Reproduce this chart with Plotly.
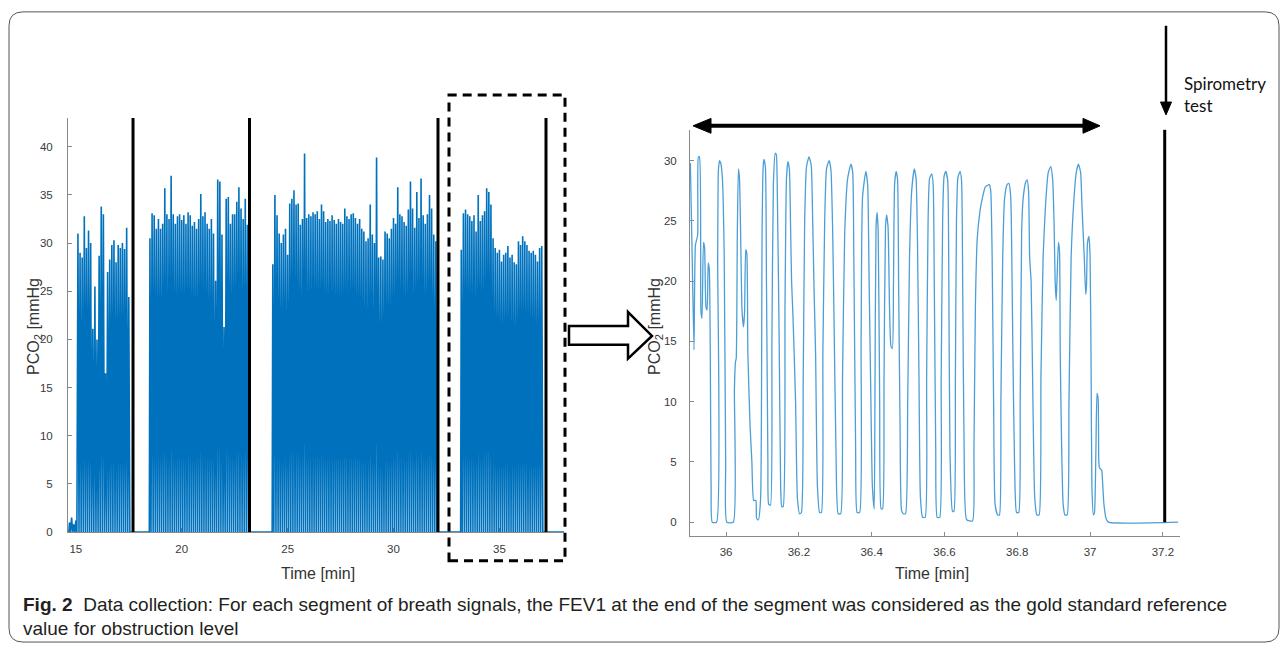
import plotly.graph_objects as go

W, H = 1287, 653

# ---------------- DATA ----------------
# Left panel: breath-by-breath peak PCO2 (mmHg), sampled every 0.1 min, per segment
seg1_start = 14.7
seg1_peaks = [1.0, 1.5, 0.8, 1.2, 31.0, 29.0, 28.5, 32.8, 29.5, 31.3, 30.0, 21.1, 25.5, 20.0,
              28.7, 33.8, 33.0, 16.5, 27.0, 28.3, 29.8, 30.3, 28.0, 29.8, 29.5, 30.0, 29.4, 31.6, 24.4]
seg2_start = 18.5
seg2_peaks = [30.5, 33.1, 32.9, 31.5, 32.5, 31.5, 32.0, 35.7, 33.0, 32.5, 37.0, 33.0, 32.0, 32.8,
              33.0, 32.4, 32.9, 32.0, 33.2, 32.9, 31.8, 32.2, 31.5, 32.5, 35.1, 32.8, 33.2, 32.0,
              31.5, 32.5, 31.0, 26.1, 36.6, 36.4, 30.9, 21.3, 34.6, 34.8, 32.0, 33.0, 33.0, 34.3,
              35.8, 33.6, 32.5, 34.6, 31.9]
seg3_start = 24.3
seg3_peaks = [27.8, 35.0, 32.9, 31.0, 30.0, 30.9, 31.5, 28.8, 34.1, 34.6, 35.5, 34.0, 34.1, 31.9,
              32.5, 39.3, 32.6, 33.0, 32.8, 33.2, 33.0, 33.3, 32.5, 34.0, 33.3, 32.2, 32.5, 32.3,
              32.9, 32.4, 32.0, 32.5, 32.2, 32.0, 33.6, 32.8, 32.5, 33.0, 33.1, 32.6, 32.0, 32.5,
              31.5, 31.2, 30.2, 30.5, 34.0, 30.9, 30.0, 38.9, 28.5, 28.6, 28.3, 31.2, 31.0, 30.5,
              31.5, 32.6, 32.0, 35.8, 33.0, 32.8, 32.2, 31.8, 33.5, 36.4, 33.6, 31.6, 35.3, 32.6,
              36.7, 32.9, 32.0, 33.0, 35.0, 33.6, 30.9, 30.2]
seg4_start = 33.2
seg4_peaks = [29.3, 33.1, 33.5, 33.0, 32.8, 32.3, 32.9, 31.2, 35.0, 32.3, 32.9, 33.3, 35.7, 35.3,
              34.0, 30.5, 29.5, 29.0, 29.3, 28.1, 28.8, 29.0, 29.7, 28.5, 28.8, 28.0, 27.8, 30.2,
              29.8, 30.7, 30.2, 29.8, 29.2, 29.0, 29.2, 28.8, 28.1, 29.5, 29.7]
left_end_time = 38.05
segment_end_times = [17.7, 23.2, 32.1, 37.2]

# Right panel: last segment, detailed capnogram (time in min, PCO2 in mmHg)
zoom_t = [35.902, 35.907, 35.912, 35.916, 35.922, 35.924, 35.927, 35.931, 35.934, 35.938, 35.941,
          35.945, 35.948, 35.951, 35.954, 35.959, 35.962, 35.974, 35.977, 35.979, 35.982, 35.986,
          35.990, 35.995, 35.999, 36.002, 36.020, 36.023, 36.026, 36.028, 36.031, 36.034, 36.037,
          36.040, 36.044, 36.048, 36.051, 36.054, 36.057, 36.060, 36.066, 36.071, 36.076, 36.082,
          36.084, 36.089, 36.095, 36.099, 36.102, 36.104, 36.108, 36.111, 36.115, 36.117, 36.122,
          36.126, 36.130, 36.135, 36.138, 36.141, 36.146, 36.150, 36.153, 36.157, 36.162, 36.166,
          36.170, 36.174, 36.177, 36.180, 36.184, 36.191, 36.196, 36.202, 36.207, 36.212, 36.216,
          36.221, 36.228, 36.234, 36.238, 36.242, 36.246, 36.251, 36.257, 36.262, 36.266, 36.271,
          36.276, 36.283, 36.288, 36.293, 36.297, 36.302, 36.308, 36.315, 36.320, 36.326, 36.334,
          36.343, 36.348, 36.351, 36.356, 36.360, 36.367, 36.371, 36.375, 36.384, 36.389, 36.393,
          36.397, 36.402, 36.407, 36.409, 36.412, 36.415, 36.418, 36.422, 36.426, 36.430, 36.434,
          36.438, 36.441, 36.445, 36.449, 36.453, 36.457, 36.460, 36.463, 36.467, 36.471, 36.474,
          36.478, 36.482, 36.487, 36.493, 36.499, 36.504, 36.510, 36.517, 36.522, 36.526, 36.530,
          36.534, 36.540, 36.547, 36.551, 36.555, 36.559, 36.565, 36.569, 36.572, 36.576, 36.580,
          36.587, 36.591, 36.595, 36.599, 36.604, 36.609, 36.612, 36.615, 36.622, 36.626, 36.630,
          36.633, 36.637, 36.643, 36.647, 36.650, 36.654, 36.661, 36.677, 36.681, 36.685, 36.690,
          36.698, 36.705, 36.712, 36.723, 36.727, 36.731, 36.735, 36.739, 36.746, 36.751, 36.755,
          36.760, 36.765, 36.772, 36.777, 36.782, 36.785, 36.788, 36.793, 36.798, 36.804, 36.808,
          36.812, 36.816, 36.823, 36.827, 36.831, 36.834, 36.838, 36.843, 36.848, 36.854, 36.860,
          36.865, 36.871, 36.878, 36.885, 36.892, 36.897, 36.901, 36.904, 36.907, 36.909, 36.913,
          36.916, 36.918, 36.922, 36.926, 36.931, 36.937, 36.942, 36.948, 36.955, 36.962, 36.968,
          36.974, 36.978, 36.984, 36.988, 36.990, 36.993, 36.997, 37.000, 37.003, 37.005, 37.009,
          37.012, 37.016, 37.019, 37.022, 37.024, 37.026, 37.032, 37.034, 37.038, 37.044, 37.050,
          37.242]
zoom_v = [29.8, 22.0, 14.3, 23.0, 23.8, 30.3, 30.3, 17.5, 16.9, 23.2, 22.8,
          17.8, 17.6, 21.5, 21.0, 3.0, 0.0, 0.0, 22.0, 29.2, 30.0, 29.7,
          28.5, 22.0, 5.0, 0.0, 0.0, 11.0, 13.3, 13.6, 24.0, 29.3, 28.5,
          24.0, 17.5, 16.2, 17.5, 22.6, 22.3, 14.0, 8.0, 5.0, 1.8, 1.8,
          0.3, 0.2, 2.0, 24.0, 29.5, 30.1, 29.5, 20.0, 5.0, 1.5, 1.4,
          15.0, 28.0, 30.6, 30.5, 27.0, 15.0, 3.0, 1.3, 1.3, 18.0, 28.5,
          29.9, 29.3, 25.0, 20.0, 17.0, 10.0, 2.0, 0.7, 0.8, 12.0, 25.0,
          29.5, 30.3, 29.6, 25.0, 19.0, 14.0, 3.0, 0.8, 0.8, 14.0, 25.0,
          29.3, 30.0, 29.3, 24.0, 16.0, 6.0, 0.7, 0.7, 12.0, 24.0, 28.5,
          29.7, 29.0, 22.0, 6.0, 0.8, 0.8, 15.0, 27.0, 29.1, 28.0, 20.0,
          12.0, 3.0, 1.1, 10.0, 24.5, 25.7, 24.0, 10.0, 1.1, 1.1, 12.0,
          24.5, 25.5, 24.5, 18.0, 14.6, 14.4, 20.0, 28.0, 29.1, 28.5, 20.0,
          8.0, 1.0, 0.7, 0.7, 10.0, 22.0, 27.5, 29.3, 28.5, 23.0, 12.0,
          2.0, 0.4, 0.4, 12.0, 25.0, 28.5, 28.9, 28.0, 20.0, 6.0, 0.4,
          0.4, 12.0, 25.0, 28.7, 29.1, 28.3, 20.0, 6.0, 0.9, 0.9, 12.0,
          25.0, 28.6, 29.1, 28.3, 20.0, 6.0, 0.2, 0.1, 6.0, 18.0, 23.5,
          25.9, 27.0, 27.8, 28.0, 27.5, 22.0, 10.0, 1.5, 0.6, 0.6, 10.0,
          22.0, 26.8, 28.0, 28.1, 27.0, 22.0, 14.0, 4.0, 0.8, 0.8, 10.0,
          24.0, 26.8, 28.2, 28.4, 27.5, 22.0, 20.0, 10.0, 2.0, 0.6, 0.6,
          12.0, 22.0, 26.5, 29.0, 29.5, 28.5, 25.0, 20.0, 18.4, 20.0, 23.2,
          22.5, 14.0, 6.0, 1.5, 0.6, 0.6, 10.0, 22.0, 26.5, 29.0, 29.7,
          29.0, 26.0, 22.0, 18.9, 19.5, 23.2, 23.7, 22.0, 12.0, 3.0, 0.6,
          0.8, 6.0, 10.7, 10.3, 5.0, 4.5, 4.3, 3.5, 1.5, 0.3, 0.0,
          0.0]
spirometry_time = 37.205

left_xticks = [15, 20, 25, 30, 35]
left_yticks = [0, 5, 10, 15, 20, 25, 30, 35, 40]
right_xticks = [36, 36.2, 36.4, 36.6, 36.8, 37, 37.2]
right_xticktext = ["36", "36.2", "36.4", "36.6", "36.8", "37", "37.2"]
right_yticks = [0, 5, 10, 15, 20, 25, 30]

caption_line1 = ("<b>Fig. 2</b>  Data collection: For each segment of breath signals, the FEV1 at the end "
                 "of the segment was considered as the gold standard reference")
caption_line2 = "value for obstruction level"

# ---------------- helpers ----------------
def px(x):
    return x / W

def py(y):
    return 1 - y / H

# left trace (each breath drawn as a spike down to the baseline)
lt, lv = [], []
for start, peaks in [(seg1_start, seg1_peaks), (seg2_start, seg2_peaks),
                     (seg3_start, seg3_peaks), (seg4_start, seg4_peaks)]:
    lt.append(start - 0.03)
    lv.append(0.0)
    for i, p in enumerate(peaks):
        t = start + 0.1 * i
        lt += [t, t + 0.05]
        lv += [p, 0.0]
lt.append(left_end_time)
lv.append(0.0)

fig = go.Figure()
fig.add_trace(go.Scatter(x=lt, y=lv, mode="lines", line=dict(color="#0072BD", width=1.6),
                         xaxis="x", yaxis="y", hoverinfo="skip"))
fig.add_trace(go.Scatter(x=zoom_t, y=zoom_v, mode="lines",
                         line=dict(color="#4C9FD6", width=1.3, shape="spline", smoothing=0.5),
                         xaxis="x2", yaxis="y2", hoverinfo="skip"))

tickfont = dict(family="Liberation Sans, Arial, sans-serif", size=11.5, color="#3a3a3a")
axcol = "#8a8a8a"
common = dict(showgrid=False, zeroline=False, showline=True, linecolor=axcol, linewidth=1,
              ticks="inside", ticklen=4, tickcolor=axcol, tickfont=tickfont, layer="below traces")

shapes = []
# outer rounded border
x0b, y0b, x1b, y1b, r = 9, 12, 1279, 648, 14
path = (f"M {px(x0b+r)},{py(y0b)} L {px(x1b-r)},{py(y0b)} Q {px(x1b)},{py(y0b)} {px(x1b)},{py(y0b+r)} "
        f"L {px(x1b)},{py(y1b-r)} Q {px(x1b)},{py(y1b)} {px(x1b-r)},{py(y1b)} "
        f"L {px(x0b+r)},{py(y1b)} Q {px(x0b)},{py(y1b)} {px(x0b)},{py(y1b-r)} "
        f"L {px(x0b)},{py(y0b+r)} Q {px(x0b)},{py(y0b)} {px(x0b+r)},{py(y0b)} Z")
shapes.append(dict(type="path", path=path, xref="paper", yref="paper",
                   line=dict(color="#555555", width=1)))

# segment end markers (left)
for t in segment_end_times:
    shapes.append(dict(type="line", xref="x", yref="y", x0=t, x1=t, y0=0, y1=43,
                       line=dict(color="black", width=3)))
# spirometry marker (right)
shapes.append(dict(type="line", xref="x2", yref="y2", x0=spirometry_time, x1=spirometry_time,
                   y0=0, y1=32.6, line=dict(color="black", width=3)))

# dashed box
shapes.append(dict(type="rect", xref="paper", yref="paper", x0=px(449), x1=px(565), y0=py(566), y1=py(96),
                   line=dict(color="black", width=3, dash="9px,6px")))

# hollow arrow
pts = [(569, 329), (628, 329), (628, 315), (652, 339), (628, 362), (628, 348), (569, 348)]
p = "M " + " L ".join(f"{px(a)},{py(b)}" for a, b in pts) + " Z"
shapes.append(dict(type="path", path=p, xref="paper", yref="paper", fillcolor="white",
                   line=dict(color="black", width=2.5)))

# double-headed arrow
shapes.append(dict(type="line", xref="paper", yref="paper", x0=px(706), x1=px(1088), y0=py(127), y1=py(127),
                   line=dict(color="black", width=4)))
for tri in [[(693, 127), (711, 119.5), (711, 134.5)], [(1100, 127), (1083, 119.5), (1083, 134.5)]]:
    p = "M " + " L ".join(f"{px(a)},{py(b)}" for a, b in tri) + " Z"
    shapes.append(dict(type="path", path=p, xref="paper", yref="paper", fillcolor="black",
                       line=dict(color="black", width=1)))

# spirometry down arrow
shapes.append(dict(type="line", xref="paper", yref="paper", x0=px(1166), x1=px(1166), y0=py(26), y1=py(105),
                   line=dict(color="black", width=2.5)))
tri = [(1160.5, 103), (1171.5, 103), (1166, 116)]
p = "M " + " L ".join(f"{px(a)},{py(b)}" for a, b in tri) + " Z"
shapes.append(dict(type="path", path=p, xref="paper", yref="paper", fillcolor="black",
                   line=dict(color="black", width=1)))

titlefont = dict(family="Liberation Sans, Arial, sans-serif", size=16, color="#333333")
capfont = dict(family="Liberation Sans, Arial, sans-serif", size=19, color="#231f20")
annotations = [
    dict(text="Time [min]", x=px(318), y=py(579), xref="paper", yref="paper", showarrow=False,
         font=titlefont, xanchor="center", yanchor="middle"),
    dict(text="Time [min]", x=px(932), y=py(579), xref="paper", yref="paper", showarrow=False,
         font=titlefont, xanchor="center", yanchor="middle"),
    dict(text="PCO<sub>2</sub> [mmHg", x=px(35), y=py(330), xref="paper", yref="paper", showarrow=False,
         font=titlefont, textangle=-90, xanchor="center", yanchor="middle"),
    dict(text="PCO<sub>2</sub> [mmHg", x=px(656), y=py(330), xref="paper", yref="paper", showarrow=False,
         font=titlefont, textangle=-90, xanchor="center", yanchor="middle"),
    dict(text="Spirometry<br>test", x=px(1182), y=py(72), xref="paper", yref="paper", showarrow=False,
         font=dict(family="Lato, Open Sans, sans-serif", size=17, color="#111111"),
         xanchor="left", yanchor="top", align="left"),
    dict(text=caption_line1, x=px(21), y=py(610), xref="paper", yref="paper", showarrow=False,
         font=capfont, xanchor="left", yanchor="middle", align="left"),
    dict(text=caption_line2, x=px(21), y=py(634), xref="paper", yref="paper", showarrow=False,
         font=capfont, xanchor="left", yanchor="middle", align="left"),
]

fig.update_layout(
    width=W, height=H, margin=dict(l=0, r=0, t=0, b=0),
    paper_bgcolor="white", plot_bgcolor="white", showlegend=False,
    xaxis=dict(domain=[px(68), px(564)], range=[14.63, 38.05], tickvals=left_xticks,
               ticklabelstandoff=6, anchor="y", **common),
    yaxis=dict(domain=[py(537), py(119)], range=[0, 43], tickvals=left_yticks,
               ticklabelstandoff=12, anchor="x", **common),
    xaxis2=dict(domain=[px(690), px(1180)], range=[35.901, 37.247], tickvals=right_xticks,
                ticktext=right_xticktext, ticklabelstandoff=5, anchor="y2", **common),
    yaxis2=dict(domain=[py(541), py(131)], range=[-1.15, 32.55], tickvals=right_yticks,
                ticklabelstandoff=10, anchor="x2", **common),
    shapes=shapes, annotations=annotations,
)

fig.write_html("out.html", config={"displayModeBar": False},
               post_script="document.body.style.margin='0px';document.body.style.padding='0px';"
                           "document.body.style.overflow='hidden';")
